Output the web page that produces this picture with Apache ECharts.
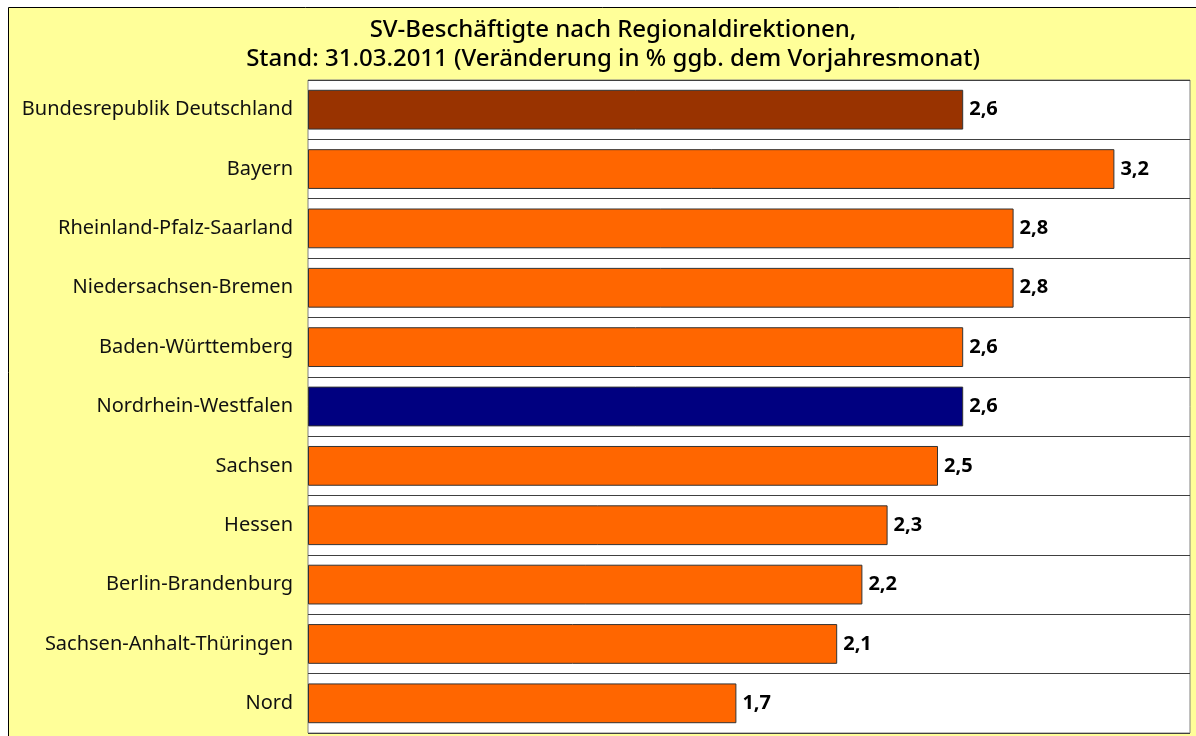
<!DOCTYPE html>
<html>
<head>
<meta charset="utf-8">
<style>
html, body { margin: 0; padding: 0; background: #fff; }
#main { width: 1196px; height: 736px; }
</style>
<script src="https://cdn.jsdelivr.net/npm/echarts@6/dist/echarts.min.js"></script>
</head>
<body>
<div id="main"></div>
<script>
var regions = ['Bundesrepublik Deutschland', 'Bayern', 'Rheinland-Pfalz-Saarland', 'Niedersachsen-Bremen',
    'Baden-Württemberg', 'Nordrhein-Westfalen', 'Sachsen', 'Hessen', 'Berlin-Brandenburg',
    'Sachsen-Anhalt-Thüringen', 'Nord'];
var changes = [2.6, 3.2, 2.8, 2.8, 2.6, 2.6, 2.5, 2.3, 2.2, 2.1, 1.7];
var barColors = ['#993300', '#ff6600', '#ff6600', '#ff6600', '#ff6600', '#000080',
    '#ff6600', '#ff6600', '#ff6600', '#ff6600', '#ff6600'];

var fontName = '"Noto Sans", "DejaVu Sans", sans-serif';
var myChart = echarts.init(document.getElementById('main'));

var option = {
    backgroundColor: '#ffffff',
    animation: false,
    graphic: [{
        type: 'rect',
        z: -10,
        shape: { x: 8.5, y: 7.5, width: 1200, height: 740 },
        style: { fill: '#ffff99', stroke: '#000', lineWidth: 1 }
    }],
    title: {
        text: 'SV-Beschäftigte nach Regionaldirektionen,\nStand: 31.03.2011 (Veränderung in % ggb. dem Vorjahresmonat)',
        left: 608,
        top: 11,
        textAlign: 'center',
        textStyle: {
            fontFamily: fontName,
            fontSize: 24,
            fontWeight: 500,
            color: '#000',
            lineHeight: 29
        }
    },
    grid: {
        left: 308,
        right: 6,
        top: 80,
        bottom: 3,
        show: true,
        backgroundColor: '#ffffff',
        borderColor: '#808080',
        borderWidth: 1
    },
    xAxis: {
        type: 'value',
        min: 0,
        max: 3.5,
        show: false
    },
    yAxis: {
        type: 'category',
        inverse: true,
        data: regions,
        axisLine: { show: false },
        axisTick: { show: false },
        splitLine: { show: true, lineStyle: { color: '#404040', width: 1 } },
        axisLabel: {
            margin: 15,
            fontFamily: fontName,
            fontSize: 20,
            color: '#111'
        }
    },
    series: [{
        type: 'bar',
        barWidth: '67%',
        data: changes.map(function (v, i) {
            return { value: v, itemStyle: { color: barColors[i] } };
        }),
        itemStyle: { borderColor: '#333', borderWidth: 1 },
        label: {
            show: true,
            position: 'right',
            distance: 6,
            fontFamily: fontName,
            fontSize: 20,
            fontWeight: 'bold',
            color: '#000',
            formatter: function (p) { return p.value.toFixed(1).replace('.', ','); }
        }
    }]
};

myChart.setOption(option);
</script>
</body>
</html>
